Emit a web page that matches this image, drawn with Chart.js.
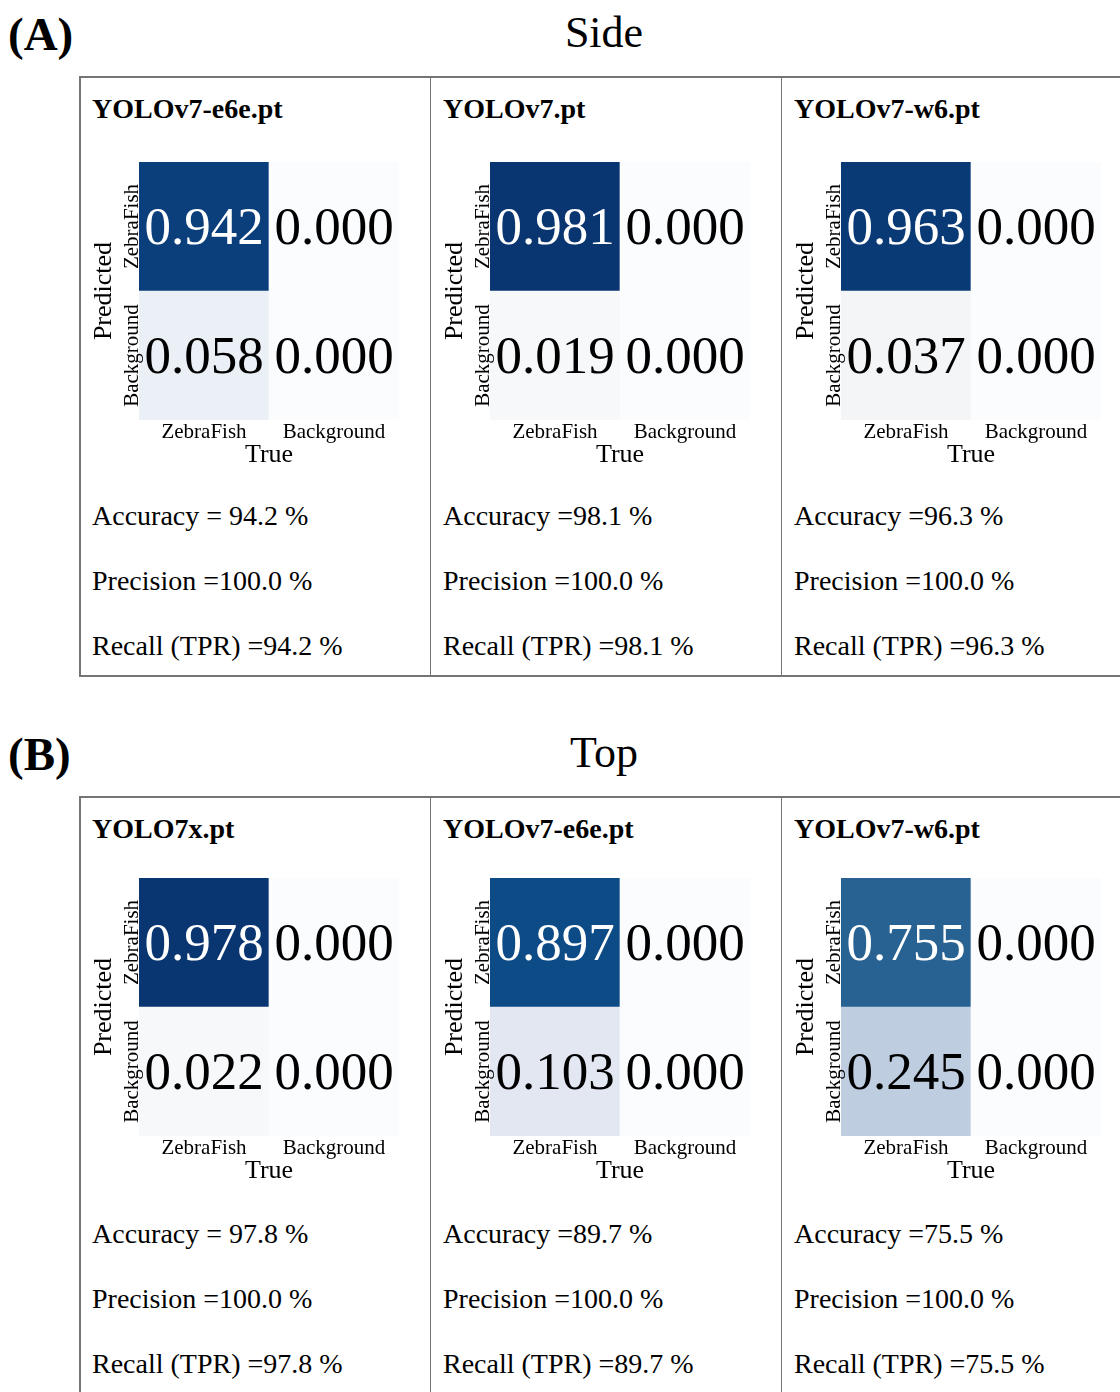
<!DOCTYPE html>
<html>
<head>
<meta charset="utf-8">
<script src="https://cdn.jsdelivr.net/npm/chart.js@4.4.1/dist/chart.umd.min.js"></script>
<style>
  html, body { margin: 0; padding: 0; background: #fff; }
  body { width: 1120px; height: 1392px; position: relative; overflow: hidden;
         font-family: 'Liberation Serif', 'Times New Roman', serif; color: #000; }
  .txt { position: absolute; white-space: nowrap; line-height: 1; }
  .box { position: absolute; border: 2px solid #757575; box-sizing: border-box; }
  .sep { position: absolute; width: 1px; background: #757575; }
  canvas { position: absolute; }
</style>
</head>
<body>
<script>
// ---- data ----
const trueLabels = ['ZebraFish', 'Background'];
const predLabels = ['ZebraFish', 'Background'];
const sectionNames = ['Side', 'Top'];
const sectionTags = ['(A)', '(B)'];
const modelNames = ['YOLOv7-e6e.pt', 'YOLOv7.pt', 'YOLOv7-w6.pt',
                    'YOLO7x.pt', 'YOLOv7-e6e.pt', 'YOLOv7-w6.pt'];
// normalised confusion matrix rows, one pair per model: [true ZebraFish, true Background]
const predZebraFishRow = [[0.942, 0.000], [0.981, 0.000], [0.963, 0.000],
                          [0.978, 0.000], [0.897, 0.000], [0.755, 0.000]];
const predBackgroundRow = [[0.058, 0.000], [0.019, 0.000], [0.037, 0.000],
                           [0.022, 0.000], [0.103, 0.000], [0.245, 0.000]];
const accuracy = [94.2, 98.1, 96.3, 97.8, 89.7, 75.5];
const precision = [100.0, 100.0, 100.0, 100.0, 100.0, 100.0];
const recall = [94.2, 98.1, 96.3, 97.8, 89.7, 75.5];

// ---- page layout ----
const SERIF = "'Liberation Serif', 'Times New Roman', serif";
const boxLeft = 79, colWidth = 351;
const sectionLayout = [
  { headBase: 50,  boxTop: 76,  boxBottom: 677,  nameBase: 118, cellTop: 162, metricBase: [525, 590, 655] },
  { headBase: 770, boxTop: 796, boxBottom: 1400, nameBase: 838, cellTop: 878, metricBase: [1243, 1308, 1373] }
];

// light-to-dark blue scale for cell shading
const blueStops = [
  [0.00, [251, 252, 254]],
  [0.04, [243, 244, 246]],
  [0.06, [234, 240, 247]],
  [0.10, [228, 232, 241]],
  [0.25, [189, 204, 222]],
  [0.50, [112, 150, 190]],
  [0.75, [40, 99, 146]],
  [0.90, [12, 74, 135]],
  [1.00, [8, 48, 107]]
];
function shade(v) {
  for (let i = 1; i < blueStops.length; i++) {
    const [t1, c1] = blueStops[i], [t0, c0] = blueStops[i - 1];
    if (v <= t1) {
      const f = (v - t0) / (t1 - t0);
      const c = c0.map((a, k) => Math.round(a + (c1[k] - a) * f));
      return `rgb(${c[0]},${c[1]},${c[2]})`;
    }
  }
  const c = blueStops[blueStops.length - 1][1];
  return `rgb(${c[0]},${c[1]},${c[2]})`;
}

function addText(str, left, base, size, opts = {}) {
  const d = document.createElement('div');
  d.className = 'txt';
  d.textContent = str;
  d.style.fontSize = size + 'px';
  d.style.top = (base - 0.8375 * size) + 'px';
  if (opts.bold) d.style.fontWeight = 'bold';
  if (opts.center) {
    d.style.left = (left - 200) + 'px';
    d.style.width = '400px';
    d.style.textAlign = 'center';
  } else {
    d.style.left = left + 'px';
  }
  document.body.appendChild(d);
}

// value written in the middle of every cell
const cellValues = {
  id: 'cellValues',
  afterDatasetsDraw(chart) {
    const ctx = chart.ctx;
    ctx.save();
    ctx.font = `53px ${SERIF}`;
    ctx.textAlign = 'center';
    ctx.textBaseline = 'middle';
    chart.data.datasets.forEach((ds, di) => {
      chart.getDatasetMeta(di).data.forEach((el, i) => {
        const v = ds.cellValues[i];
        ctx.fillStyle = v > 0.5 ? '#ffffff' : '#000000';
        ctx.fillText(v.toFixed(3), el.x, (el.y + el.base) / 2 + 4);
      });
    });
    ctx.restore();
  }
};

// rotated row names beside the matrix
const rowNames = {
  id: 'rowNames',
  afterDraw(chart) {
    const ctx = chart.ctx, y = chart.scales.y;
    const x0 = chart.chartArea.left - 7;
    y.ticks.forEach((t) => {
      ctx.save();
      ctx.translate(x0, y.getPixelForValue(t.value));
      ctx.rotate(-Math.PI / 2);
      ctx.font = `21px ${SERIF}`;
      ctx.fillStyle = '#000';
      ctx.textAlign = 'center';
      ctx.textBaseline = 'middle';
      ctx.fillText(t.label, 0, 0);
      ctx.restore();
    });
  }
};

function drawMatrix(m, left, top) {
  const cv = document.createElement('canvas');
  cv.width = 320; cv.height = 320;
  cv.style.left = (left - 50) + 'px';
  cv.style.top = (top - 12) + 'px';
  document.body.appendChild(cv);

  const rows = [predBackgroundRow[m], predZebraFishRow[m]]; // stacked bottom-up
  const rowNamesBottomUp = [predLabels[1], predLabels[0]];

  new Chart(cv, {
    type: 'bar',
    data: {
      labels: trueLabels,
      datasets: rows.map((r, i) => ({
        label: rowNamesBottomUp[i],
        data: r.map(() => 1),
        cellValues: r,
        backgroundColor: r.map(shade),
        borderWidth: 0,
        barPercentage: 1,
        categoryPercentage: 1
      }))
    },
    options: {
      responsive: false,
      animation: false,
      events: [],
      layout: { padding: { top: 12, right: 10, left: 0, bottom: 0 } },
      plugins: { legend: { display: false }, tooltip: { enabled: false } },
      scales: {
        x: {
          type: 'category', stacked: true,
          grid: { display: false, drawTicks: false }, border: { display: false },
          ticks: { font: { family: SERIF, size: 21, lineHeight: 1 }, color: '#000',
                   padding: 2, maxRotation: 0, autoSkip: false },
          title: { display: true, text: 'True', color: '#000',
                   font: { family: SERIF, size: 26, lineHeight: 1 }, padding: { top: 0, bottom: 2 } },
          afterFit: (s) => { s.height = 50; }
        },
        y: {
          type: 'linear', stacked: true, min: 0, max: predLabels.length,
          grid: { display: false, drawTicks: false }, border: { display: false },
          ticks: { display: false, callback: (v) => predLabels[predLabels.length - 1 - Math.floor(v)] },
          afterBuildTicks: (s) => {
            s.ticks = predLabels.map((_, i) => ({ value: predLabels.length - i - 0.5 }));
          },
          title: { display: true, text: 'Predicted', color: '#000',
                   font: { family: SERIF, size: 26, lineHeight: 1 }, padding: { top: 2, bottom: 0 } },
          afterFit: (s) => { s.width = 50; }
        }
      }
    },
    plugins: [cellValues, rowNames]
  });
}

sectionLayout.forEach((L, s) => {
  addText(sectionTags[s], 8, L.headBase, 47, { bold: true });
  addText(sectionNames[s], 604, L.headBase - 2, 44, { center: true });

  const box = document.createElement('div');
  box.className = 'box';
  box.style.left = boxLeft + 'px';
  box.style.top = L.boxTop + 'px';
  box.style.width = (colWidth * 3 + 2) + 'px';
  box.style.height = (L.boxBottom - L.boxTop) + 'px';
  document.body.appendChild(box);

  for (let c = 0; c < 3; c++) {
    const m = s * 3 + c;
    const x0 = boxLeft + colWidth * c;
    if (c > 0) {
      const sp = document.createElement('div');
      sp.className = 'sep';
      sp.style.left = x0 + 'px';
      sp.style.top = L.boxTop + 'px';
      sp.style.height = (L.boxBottom - L.boxTop) + 'px';
      document.body.appendChild(sp);
    }
    addText(modelNames[m], x0 + 13, L.nameBase, 28, { bold: true });
    drawMatrix(m, x0 + 60, L.cellTop);
    const eq = c === 0 ? ' = ' : ' =';
    addText(`Accuracy${eq}${accuracy[m].toFixed(1)} %`, x0 + 13, L.metricBase[0], 28);
    addText(`Precision =${precision[m].toFixed(1)} %`, x0 + 13, L.metricBase[1], 28);
    addText(`Recall (TPR) =${recall[m].toFixed(1)} %`, x0 + 13, L.metricBase[2], 28);
  }
});
</script>
</body>
</html>
